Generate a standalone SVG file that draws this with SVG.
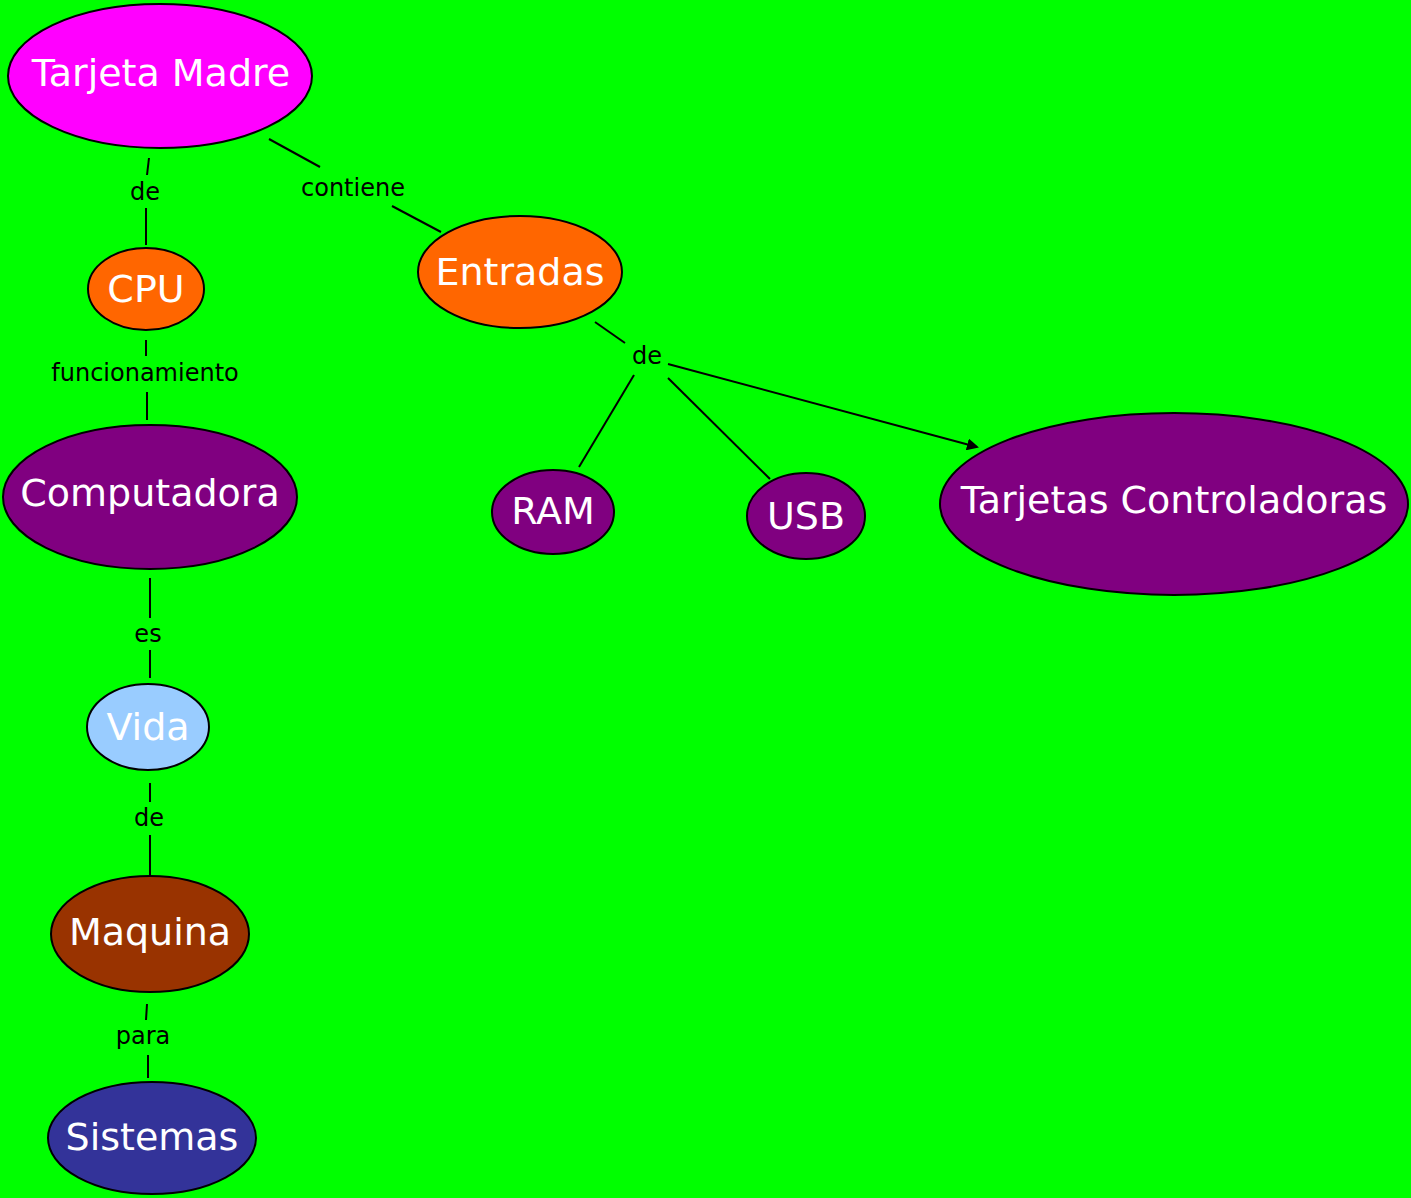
<svg xmlns="http://www.w3.org/2000/svg" width="1411" height="1198" viewBox="0 0 1411 1198">
<style>
.n{stroke:#000;stroke-width:2}
.t{font-family:"DejaVu Sans",Verdana,sans-serif;font-size:38px;fill:#fff;text-anchor:middle;dominant-baseline:central}
.l{font-family:"DejaVu Sans",Verdana,sans-serif;font-size:24px;fill:#000;text-anchor:middle;dominant-baseline:central}
.c line{stroke:#000;stroke-width:2}
</style>
<defs><marker id="a" markerWidth="12" markerHeight="12" refX="10" refY="6" orient="auto" markerUnits="userSpaceOnUse" viewBox="0 0 12 12"><path d="M0,0L12,6L0,12z" fill="#000"/></marker></defs>
<rect width="1411" height="1198" fill="#00ff00"/>
<g class="c" id="connectors">
<line x1="149" y1="158" x2="147" y2="175"/><line x1="146" y1="208" x2="146" y2="245"/>
<text class="l" x="145" y="192">de</text>
<line x1="269" y1="139" x2="320" y2="167"/><line x1="392" y1="206" x2="441" y2="232"/>
<text class="l" x="353" y="188">contiene</text>
<line x1="146" y1="340" x2="146" y2="356"/><line x1="147" y1="392" x2="147" y2="420"/>
<text class="l" x="145" y="373">funcionamiento</text>
<line x1="150" y1="578" x2="150" y2="618"/><line x1="150" y1="650" x2="150" y2="678"/>
<text class="l" x="148" y="634">es</text>
<line x1="150" y1="783" x2="150" y2="802"/><line x1="150" y1="835" x2="150" y2="875"/>
<text class="l" x="149" y="818">de</text>
<line x1="147" y1="1004" x2="146" y2="1020"/><line x1="148" y1="1055" x2="148" y2="1078"/>
<text class="l" x="143" y="1036">para</text>
<line x1="595" y1="322" x2="625" y2="343"/>
<text class="l" x="647" y="356">de</text>
<line x1="634" y1="375" x2="579" y2="467"/>
<line x1="668" y1="378" x2="770" y2="479"/>
<line x1="668" y1="364" x2="977" y2="447" marker-end="url(#a)"/>
</g>
<g id="tarjeta-madre"><ellipse class="n" cx="160" cy="76" rx="152" ry="72" fill="#ff00ff"/><text class="t" x="161" y="73">Tarjeta Madre</text></g>
<g id="cpu"><ellipse class="n" cx="146" cy="289" rx="58" ry="41" fill="#ff6600"/><text class="t" x="146" y="289">CPU</text></g>
<g id="entradas"><ellipse class="n" cx="520" cy="272" rx="102" ry="56" fill="#ff6600"/><text class="t" x="520" y="272">Entradas</text></g>
<g id="computadora"><ellipse class="n" cx="150" cy="497" rx="147" ry="72" fill="#800080"/><text class="t" x="150" y="493">Computadora</text></g>
<g id="ram"><ellipse class="n" cx="553" cy="512" rx="61" ry="42" fill="#800080"/><text class="t" x="553" y="511">RAM</text></g>
<g id="usb"><ellipse class="n" cx="806" cy="516" rx="59" ry="43" fill="#800080"/><text class="t" x="806" y="516">USB</text></g>
<g id="tarjetas-controladoras"><ellipse class="n" cx="1174" cy="504" rx="234" ry="91" fill="#800080"/><text class="t" x="1174" y="500">Tarjetas Controladoras</text></g>
<g id="vida"><ellipse class="n" cx="148" cy="727" rx="61" ry="43" fill="#99ccff"/><text class="t" x="148" y="727">Vida</text></g>
<g id="maquina"><ellipse class="n" cx="150" cy="934" rx="99" ry="58" fill="#993300"/><text class="t" x="150" y="932">Maquina</text></g>
<g id="sistemas"><ellipse class="n" cx="152" cy="1138" rx="104" ry="56" fill="#333399"/><text class="t" x="152" y="1137">Sistemas</text></g>
</svg>
